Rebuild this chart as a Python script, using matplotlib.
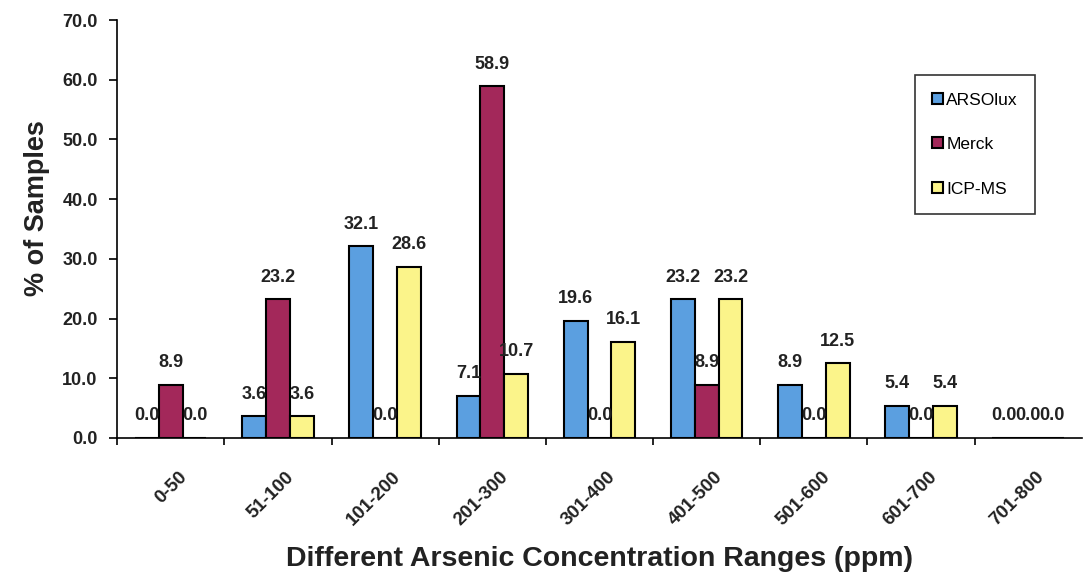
import numpy as np
import matplotlib.pyplot as plt

plt.rcParams['font.family'] = ['Liberation Sans', 'DejaVu Sans']

categories = ["0-50", "51-100", "101-200", "201-300", "301-400",
              "401-500", "501-600", "601-700", "701-800"]
arsolux = [0.0, 3.6, 32.1, 7.1, 19.6, 23.2, 8.9, 5.4, 0.0]
merck = [8.9, 23.2, 0.0, 58.9, 0.0, 8.9, 0.0, 0.0, 0.0]
icpms = [0.0, 3.6, 28.6, 10.7, 16.1, 23.2, 12.5, 5.4, 0.0]

series = [("ARSOlux", arsolux, "#5b9fe0"),
          ("Merck", merck, "#a3285a"),
          ("ICP-MS", icpms, "#fbf48a")]

fig = plt.figure(figsize=(10.85, 5.8), dpi=100)
ax = fig.add_axes([0.108, 0.245, 0.889, 0.7205])

x = np.arange(len(categories))
w = 1 / 4.5
for i, (name, vals, col) in enumerate(series):
    pos = x + (i - 1) * w
    bars = ax.bar(pos, vals, width=w, color=col, edgecolor="black",
                  linewidth=1.5, label=name)
    for b, v in zip(bars, vals):
        ax.text(b.get_x() + b.get_width() / 2, v + 2.3, "%.1f" % v,
                ha="center", va="bottom", fontsize=13, fontweight="bold",
                color="#222222")

ax.set_xlim(-0.5, len(categories) - 0.5)
ax.set_ylim(0, 70)
ax.set_yticks(np.arange(0, 71, 10))
ax.set_yticklabels(["%.1f" % v for v in np.arange(0, 71, 10)],
                   fontsize=13, fontweight="bold", color="#222222")
ax.set_xticks(x + 0.07)
ax.set_xticklabels(categories, rotation=45, ha="right", rotation_mode="anchor",
                   fontsize=13.5, fontweight="bold", color="#222222")
ax.tick_params(axis="x", which="major", length=0, pad=22)
ax.set_xticks(np.arange(len(categories)) - 0.5, minor=True)
ax.tick_params(axis="x", which="minor", length=5, direction="out", width=1.2)
ax.tick_params(axis="y", length=6, width=1.2, pad=8)

for s in ["top", "right"]:
    ax.spines[s].set_visible(False)
for s in ["left", "bottom"]:
    ax.spines[s].set_linewidth(1.2)

ax.set_ylabel("% of Samples", fontsize=19.5, fontweight="bold", color="#222222")
ax.yaxis.set_label_coords(-0.07, 0.55)
ax.set_xlabel("Different Arsenic Concentration Ranges (ppm)", fontsize=20.5,
              fontweight="bold", labelpad=12, color="#222222")

leg = ax.legend(loc="upper left", bbox_to_anchor=(0.827, 0.868), fontsize=12.5,
                frameon=True, fancybox=False, edgecolor="black",
                handlelength=0.6, handleheight=0.6, handletextpad=0.2,
                labelspacing=1.7, borderpad=1.0, borderaxespad=0)
leg.get_frame().set_linewidth(1.2)

fig.savefig("out.png", dpi=100)
